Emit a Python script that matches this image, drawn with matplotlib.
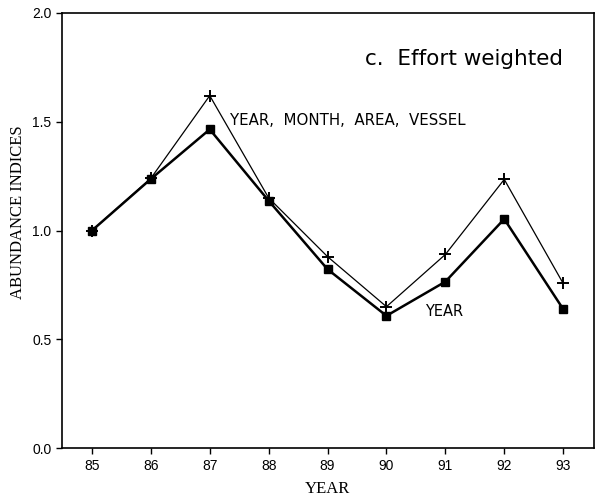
import matplotlib
matplotlib.use("Agg")
import matplotlib.pyplot as plt

years = [85, 86, 87, 88, 89, 90, 91, 92, 93]
year_month_area_vessel = [1.00, 1.24, 1.62, 1.15, 0.88, 0.65, 0.89, 1.235, 0.757]
year_only = [1.00, 1.237, 1.465, 1.137, 0.822, 0.608, 0.765, 1.053, 0.639]
yticks = [0.0, 0.5, 1.0, 1.5, 2.0]
ytick_labels = ["0.0", "0.5", "1.0", "1.5", "2.0"]

fig = plt.figure(figsize=(6.01, 4.99), dpi=100)
ax = fig.add_axes([0.103, 0.102, 0.885, 0.872])

ax.plot(years, year_month_area_vessel, color="black", lw=0.9, marker="+",
        markersize=8, markeredgewidth=1.4)
ax.plot(years, year_only, color="black", lw=1.8, marker="s",
        markersize=5.5)

ax.set_xlim(84.49, 93.52)
ax.set_ylim(0, 2.0)
ax.set_xticks(years)
ax.set_xticklabels([str(y) for y in years], fontsize=10, family="Liberation Sans")
ax.set_yticks(yticks)
ax.set_yticklabels(ytick_labels, fontsize=10, family="Liberation Sans")
ax.tick_params(direction="out", length=4, width=1)
for s in ax.spines.values():
    s.set_linewidth(1.2)

ax.set_ylabel("ABUNDANCE INDICES", fontsize=12, family="Liberation Serif")
ax.yaxis.set_label_coords(-0.068, 0.543)
ax.set_xlabel("YEAR", fontsize=12, family="Liberation Serif", labelpad=6)

ax.text(0.57, 0.895, "c.  Effort weighted", transform=ax.transAxes,
        fontsize=15.5, family="DejaVu Sans", va="center", ha="left")
ax.text(87.35, 1.505, "YEAR,  MONTH,  AREA,  VESSEL", fontsize=10.8,
        family="DejaVu Sans", va="center", ha="left")
ax.text(90.65, 0.63, "YEAR", fontsize=10.5, family="DejaVu Sans",
        va="center", ha="left")

fig.savefig("out.png", dpi=100)
